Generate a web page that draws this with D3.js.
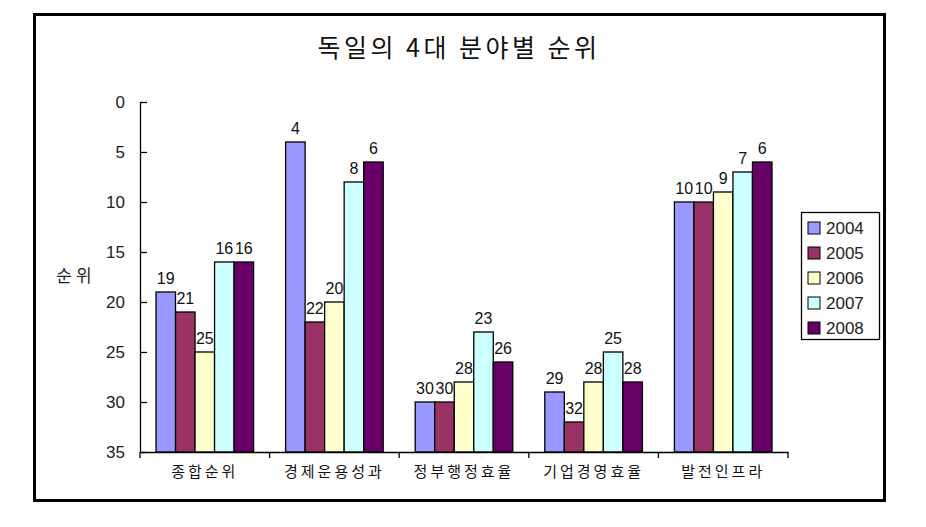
<!DOCTYPE html>
<html>
<head>
<meta charset="utf-8">
<script src="https://cdn.jsdelivr.net/npm/d3@7"></script>
<style>
  body { margin: 0; background: white; }
</style>
</head>
<body>
<div id="my_dataviz"></div>
<script>
// data
const categories = [`종합순위`, `경제운용성과`, `정부행정효율`, `기업경영효율`, `발전인프라`];
const years = [`2004`, `2005`, `2006`, `2007`, `2008`];
const rank2004 = [19, 4, 30, 29, 10];
const rank2005 = [21, 22, 30, 32, 10];
const rank2006 = [25, 20, 28, 28, 9];
const rank2007 = [16, 8, 23, 25, 7];
const rank2008 = [16, 6, 26, 28, 6];
const yTicks = [0, 5, 10, 15, 20, 25, 30, 35];

const colorMap = {
    "2004" : `#9999ff`,
    "2005" : `#993366`,
    "2006" : `#ffffcc`,
    "2007" : `#ccffff`,
    "2008" : `#660066`,
};

// Constant
const width = 926;
const height = 527;
const plot = {left: 140, right: 788, top: 102, bottom: 452};
const korFont = `"Noto Sans CJK KR", sans-serif`;
const numFont = `"Liberation Sans", Arial, sans-serif`;

const seriesMap = {
    "2004" : rank2004,
    "2005" : rank2005,
    "2006" : rank2006,
    "2007" : rank2007,
    "2008" : rank2008,
};

const data = [];
categories.forEach((c, i) => {
    years.forEach(y => {
        data.push({cat: c, year: y, value: seriesMap[y][i]});
    });
});

const xScale = d3.scaleBand()
                .domain(categories)
                .range([plot.left, plot.right]);
const innerScale = d3.scaleBand()
                .domain(years)
                .range([0, xScale.bandwidth()])
                .paddingInner(0)
                .paddingOuter(0.82);
const yScale = d3.scaleLinear()
                .domain([0, 35])
                .range([plot.top, plot.bottom]);

const svg = d3.select(`#my_dataviz`)
            .append(`svg`)
                .attr(`width`, width)
                .attr(`height`, height);

// outer frame
svg.append(`rect`)
    .attr(`x`, 34.5)
    .attr(`y`, 14.5)
    .attr(`width`, 850)
    .attr(`height`, 486)
    .attr(`fill`, `white`)
    .attr(`stroke`, `black`)
    .attr(`stroke-width`, 3);

// title
svg.append(`text`)
    .attr(`x`, 459)
    .attr(`y`, 57)
    .attr(`text-anchor`, `middle`)
    .style(`font-family`, korFont)
    .style(`font-size`, `25px`)
    .style(`letter-spacing`, `3.5px`)
    .attr(`fill`, `#111`)
    .text(`독일의 4대 분야별 순위`);

// bars
svg.selectAll(`.bar`)
    .data(data)
    .join(`rect`)
        .attr(`class`, `bar`)
        .attr(`x`, d => xScale(d.cat) + innerScale(d.year))
        .attr(`y`, d => yScale(d.value))
        .attr(`width`, innerScale.bandwidth())
        .attr(`height`, d => yScale(35) - yScale(d.value))
        .attr(`fill`, d => colorMap[d.year])
        .attr(`stroke`, `black`)
        .attr(`stroke-width`, 1.3);

// value labels
svg.selectAll(`.lebal`)
    .data(data)
    .join(`text`)
        .attr(`class`, `lebal`)
        .attr(`x`, d => xScale(d.cat) + innerScale(d.year) + innerScale.bandwidth() / 2)
        .attr(`y`, d => yScale(d.value) - 8)
        .attr(`text-anchor`, `middle`)
        .style(`font-family`, numFont)
        .style(`font-size`, `16px`)
        .attr(`fill`, `#111`)
        .text(d => d.value);

// y axis
const yAxis = svg.append(`g`)
    .attr(`transform`, `translate(${plot.left},0)`)
    .call(d3.axisLeft(yScale)
        .tickValues(yTicks)
        .tickSizeInner(-7)
        .tickSizeOuter(0)
        .tickPadding(15));
yAxis.selectAll(`text`)
    .style(`font-family`, numFont)
    .style(`font-size`, `17px`)
    .attr(`fill`, `#222`);
yAxis.selectAll(`line, path`).attr(`stroke`, `black`).attr(`stroke-width`, 1.3);

svg.append(`text`)
    .attr(`x`, 76)
    .attr(`y`, 282)
    .attr(`text-anchor`, `middle`)
    .style(`font-family`, korFont)
    .style(`font-size`, `17px`)
    .style(`letter-spacing`, `4px`)
    .attr(`fill`, `#222`)
    .text(`순위`);

// x axis
const xAxis = svg.append(`g`)
    .attr(`transform`, `translate(0,${plot.bottom})`)
    .call(d3.axisBottom(xScale).tickSize(0).tickPadding(14));
xAxis.select(`.domain`).attr(`stroke`, `black`).attr(`stroke-width`, 1.3);
xAxis.selectAll(`text`)
    .style(`font-family`, korFont)
    .style(`font-size`, `15px`)
    .style(`letter-spacing`, `3px`)
    .attr(`fill`, `#111`);

xAxis.selectAll(`.sep`)
    .data(categories.map(c => xScale(c)).concat([xScale.range()[1]]))
    .join(`line`)
        .attr(`class`, `sep`)
        .attr(`x1`, d => d)
        .attr(`x2`, d => d)
        .attr(`y1`, 0)
        .attr(`y2`, 6)
        .attr(`stroke`, `black`)
        .attr(`stroke-width`, 1.3);

// legend
const legend = svg.append(`g`);
legend.append(`rect`)
    .attr(`x`, 801.5)
    .attr(`y`, 212.5)
    .attr(`width`, 78)
    .attr(`height`, 127)
    .attr(`fill`, `white`)
    .attr(`stroke`, `black`)
    .attr(`stroke-width`, 1.3);

let y = 228;
years.forEach(e => {
    legend.append(`rect`)
        .attr(`x`, 808)
        .attr(`y`, y - 6)
        .attr(`width`, 12)
        .attr(`height`, 12)
        .attr(`fill`, colorMap[e])
        .attr(`stroke`, `black`)
        .attr(`stroke-width`, 1);
    legend.append(`text`)
        .attr(`x`, 826)
        .attr(`y`, y + 6)
        .style(`font-family`, numFont)
        .style(`font-size`, `17px`)
        .attr(`fill`, `#222`)
        .text(e);
    y += 25;
});
</script>
</body>
</html>
